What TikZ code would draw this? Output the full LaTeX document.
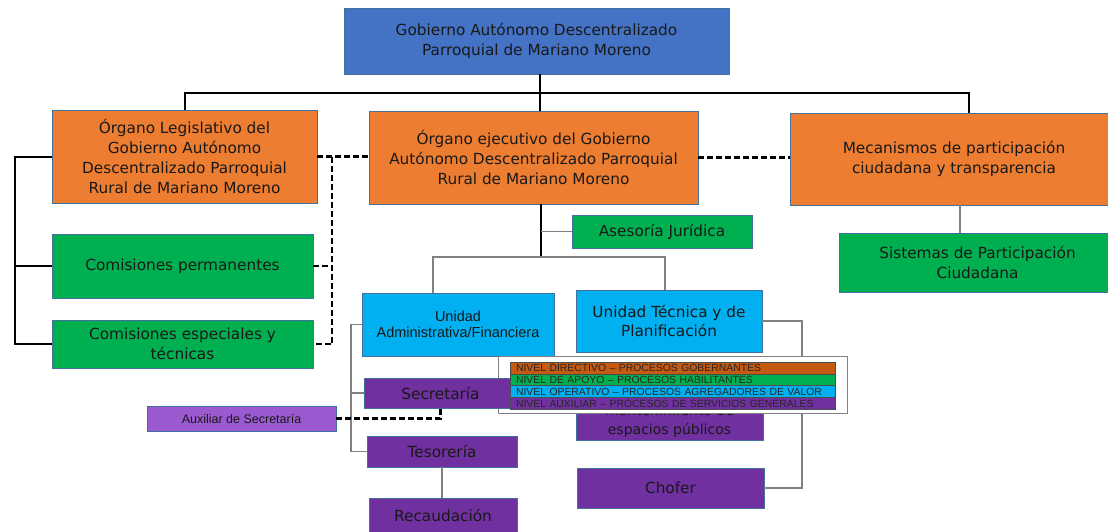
\documentclass[tikz,border=0pt]{standalone}
\usepackage{fontspec}
\setmainfont{DejaVu Sans}
\newfontfamily\arialf{Liberation Sans}
\newcommand\mainfs{\fontsize{15.3}{19.8}\selectfont}
\definecolor{cblue}{HTML}{4472C4}
\definecolor{corange}{HTML}{ED7D31}
\definecolor{cgreen}{HTML}{00B050}
\definecolor{ccyan}{HTML}{00B0F0}
\definecolor{cpurple}{HTML}{7030A0}
\definecolor{clpurple}{HTML}{9B5AD0}
\definecolor{clorange}{HTML}{C55A11}
\definecolor{outl}{HTML}{41719C}
\definecolor{gline}{HTML}{808080}
\tikzset{
  bx/.style={draw=outl, line width=0.9pt, inner sep=2pt, align=center, text=black!90, font=\mainfs},
  blk/.style={draw=black, line width=2pt},
  gry/.style={draw=gline, line width=1.2pt},
  dsh/.style={draw=black, line width=2.2pt, dash pattern=on 6pt off 3pt},
  legbar/.style={draw=black!70, line width=0.6pt, minimum width=325pt, minimum height=11.7pt,
     text width=313pt, align=left, inner xsep=6pt, inner ysep=0pt, text height=7.5pt, text depth=0pt,
     font=\arialf\fontsize{10.4}{11}\selectfont, text=black!85}
}
\begin{document}
\begin{tikzpicture}[x=1pt,y=-1pt]
\useasboundingbox (0,0) rectangle (1108,531);
\fill[white] (0,0) rectangle (1108,531);
\clip (0,0) rectangle (1108,531);

% boxes
\node[bx, fill=cblue, minimum width=385pt, minimum height=66pt] (top) at (536.5,41) {Gobierno Autónomo Descentralizado\\Parroquial de Mariano Moreno};
\node[bx, fill=corange, minimum width=265pt, minimum height=93pt] (leg) at (184.5,156.5) {Órgano Legislativo del\\Gobierno Autónomo\\Descentralizado Parroquial\\Rural de Mariano Moreno};
\node[bx, fill=corange, minimum width=329pt, minimum height=93pt] (ejec) at (533.5,157.5) {Órgano ejecutivo del Gobierno\\Autónomo Descentralizado Parroquial\\Rural de Mariano Moreno};
\node[bx, fill=corange, minimum width=328pt, minimum height=92pt] (meca) at (954,159) {Mecanismos de participación\\ciudadana y transparencia};
\node[bx, fill=cgreen, minimum width=277pt, minimum height=59pt] (sist) at (977.5,262.5) {Sistemas de Participación\\Ciudadana};
\node[bx, fill=cgreen, minimum width=261pt, minimum height=64pt] (perm) at (182.5,266) {Comisiones permanentes};
\node[bx, fill=cgreen, minimum width=261pt, minimum height=48pt] (esp) at (182.5,344) {Comisiones especiales y\\técnicas};
\node[bx, fill=cgreen, minimum width=180pt, minimum height=33pt] (ases) at (662,231.5) {Asesoría Jurídica};
\node[bx, fill=ccyan, minimum width=192pt, minimum height=63pt, font=\arialf\fontsize{14.5}{16}\selectfont] (admin) at (458,324.5) {Unidad\\Administrativa/Financiera};
\node[bx, fill=ccyan, minimum width=186pt, minimum height=62pt] (tec) at (669,321) {Unidad Técnica y de\\Planificación};
\node[bx, fill=clpurple, minimum width=189pt, minimum height=25pt, font=\arialf\fontsize{12.5}{14}\selectfont] (aux) at (241.5,418.5) {Auxiliar de Secretaría};
\node[bx, fill=cpurple, minimum width=150pt, minimum height=31pt] (tes) at (442,451.5) {Tesorería};
\node[bx, fill=cpurple, minimum width=148pt, minimum height=34pt] (rec) at (443,515) {Recaudación};
\node[bx, fill=cpurple, minimum width=187pt, minimum height=40pt] (chofer) at (670.5,488) {Chofer};
\node[bx, fill=cpurple, minimum width=187pt, minimum height=38pt, font=\fontsize{14}{19}\selectfont] (mant) at (669.5,421) {mantenimiento de\\espacios públicos};

% connectors
\coordinate (trunk) at (540,93);
\draw[blk] (top.south -| trunk) -- (trunk);
\draw[blk] (leg.north) |- (trunk) -| ([xshift=15pt]meca.north);
\draw[blk] (trunk) -- (trunk |- ejec.north);
\coordinate (lb) at (15,0);
\draw[blk] (leg.west) -| (lb |- esp.west) -- (esp.west);
\draw[blk] (perm.west) -- (perm.west -| lb);
\draw[dsh] (leg.east) -- (leg.east -| ejec.west);
\coordinate (db) at (332,0);
\draw[dsh] (leg.east -| db) |- (esp.east);
\draw[dsh] (perm.east) -- (perm.east -| db);
\draw[dsh] (ejec.east) -- (ejec.east -| meca.west);
\coordinate (eb) at (541,258);
\draw[blk] (ejec.south -| eb) -- (eb);
\draw[gry] (ases.west) -- (ases.west -| eb);
\coordinate (gl) at (433,257);
\coordinate (gr) at (665,257);
\draw[gry] (admin.north -| gl) -- (gl) -- (gr) -- (tec.north -| gr);
\coordinate (al) at (351,0);
\draw[gry] (admin.west) -| (al |- tes.west) -- (tes.west);
\draw[gry] (tes.south) -- (tes.south |- rec.north);
\coordinate (tr) at (802,0);
\draw[gry] (tec.east) -| (tr |- chofer.east) -- (chofer.east);
\coordinate (ms) at (960,0);
\draw[gry] (meca.south -| ms) -- (sist.north -| ms);

% legend frame
\node[draw=gline, line width=1pt, fill=white, minimum width=349pt, minimum height=57pt, inner sep=0pt] (legend) at (672.5,384.5) {};
% secretaria above frame
\node[bx, fill=cpurple, minimum width=153pt, minimum height=30pt] (secr) at (440.5,393) {Secretaría};
\draw[gry] (secr.west) -- (secr.west -| al);
\draw[dsh] (aux.east) -| (secr.south);
% legend bars
\node[legbar, fill=clorange] (l1) at (672.5,368.15) {NIVEL DIRECTIVO – PROCESOS GOBERNANTES};
\node[legbar, fill=cgreen] (l2) at (672.5,379.85) {NIVEL DE APOYO – PROCESOS HABILITANTES};
\node[legbar, fill=ccyan] (l3) at (672.5,391.55) {NIVEL OPERATIVO – PROCESOS AGREGADORES DE VALOR};
\node[legbar, fill=cpurple] (l4) at (672.5,403.25) {NIVEL AUXILIAR – PROCESOS DE SERVICIOS GENERALES};
\end{tikzpicture}
\end{document}
